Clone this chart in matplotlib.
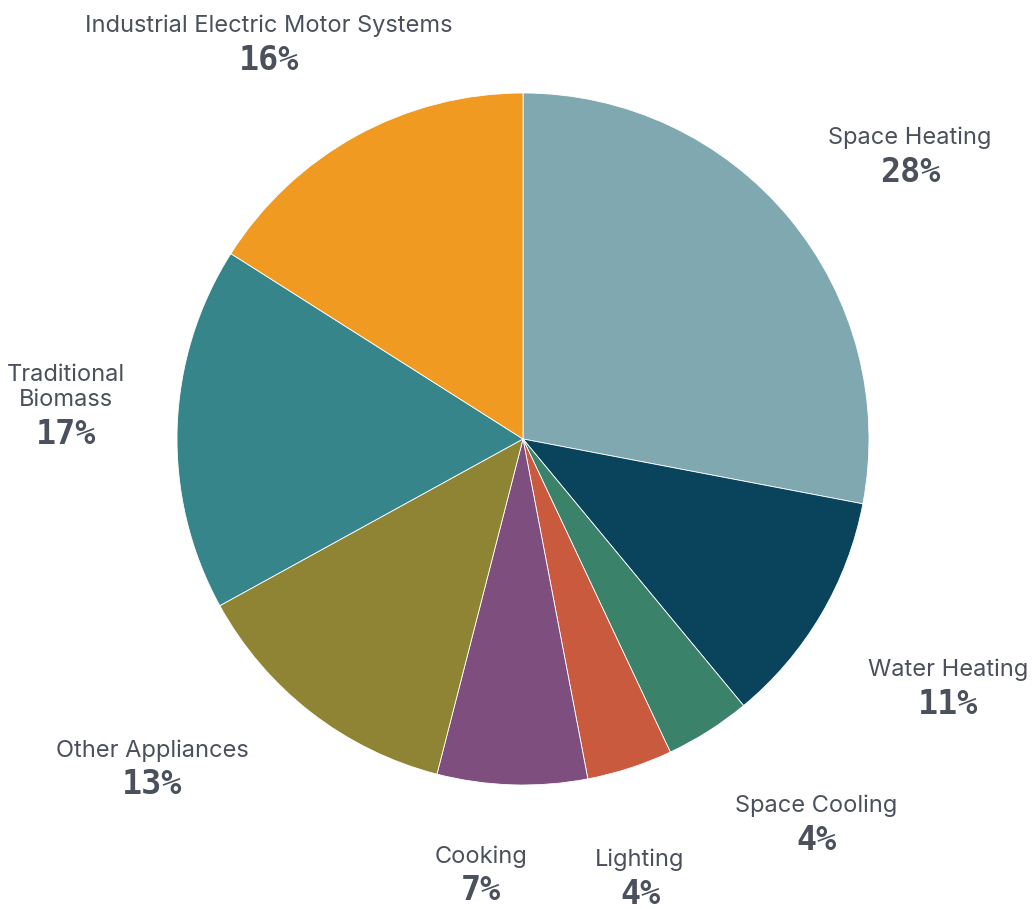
import numpy as np
import matplotlib.pyplot as plt

categories = ["Space Heating", "Water Heating", "Space Cooling", "Lighting",
              "Cooking", "Other Appliances", "Traditional\nBiomass",
              "Industrial Electric Motor Systems"]
shares = [28, 11, 4, 4, 7, 13, 17, 16]
colors = ["#7fa8b1", "#0a435c", "#3b826b", "#c95a3e",
          "#7d4e7e", "#8f8434", "#36858a", "#f09a22"]

# where each label's percentage sits, pixels from top-left
label_xy = [(910, 172), (948, 704), (816, 840), (640, 894),
            (481, 891), (152, 785), (66, 434), (269, 60)]

W, H = 1032, 909
fig = plt.figure(figsize=(W / 100, H / 100), dpi=100)
ax = fig.add_axes([0, 0, 1, 1])

cx, cy, r = 523, H - 439, 346
wedges, _ = ax.pie(shares, colors=colors, startangle=90, counterclock=False,
                   center=(cx, cy), radius=r, frame=True,
                   wedgeprops=dict(edgecolor="white", linewidth=0.6))
ax.set_xlim(0, W)
ax.set_ylim(0, H)
ax.axis("off")

txt = "#4b515c"
for (px, py), name, val in zip(label_xy, categories, shares):
    y = H - py
    ax.text(px, y + 23, name, ha="center", va="bottom", fontsize=17,
            family="Inter", weight="normal", color=txt, linespacing=1.2,
            multialignment="center")
    ax.text(px, y, f"{val}%", ha="center", va="center", fontsize=24,
            family=["DejaVu Sans Mono"], weight="bold", color=txt)

fig.savefig("out.png", dpi=100)
